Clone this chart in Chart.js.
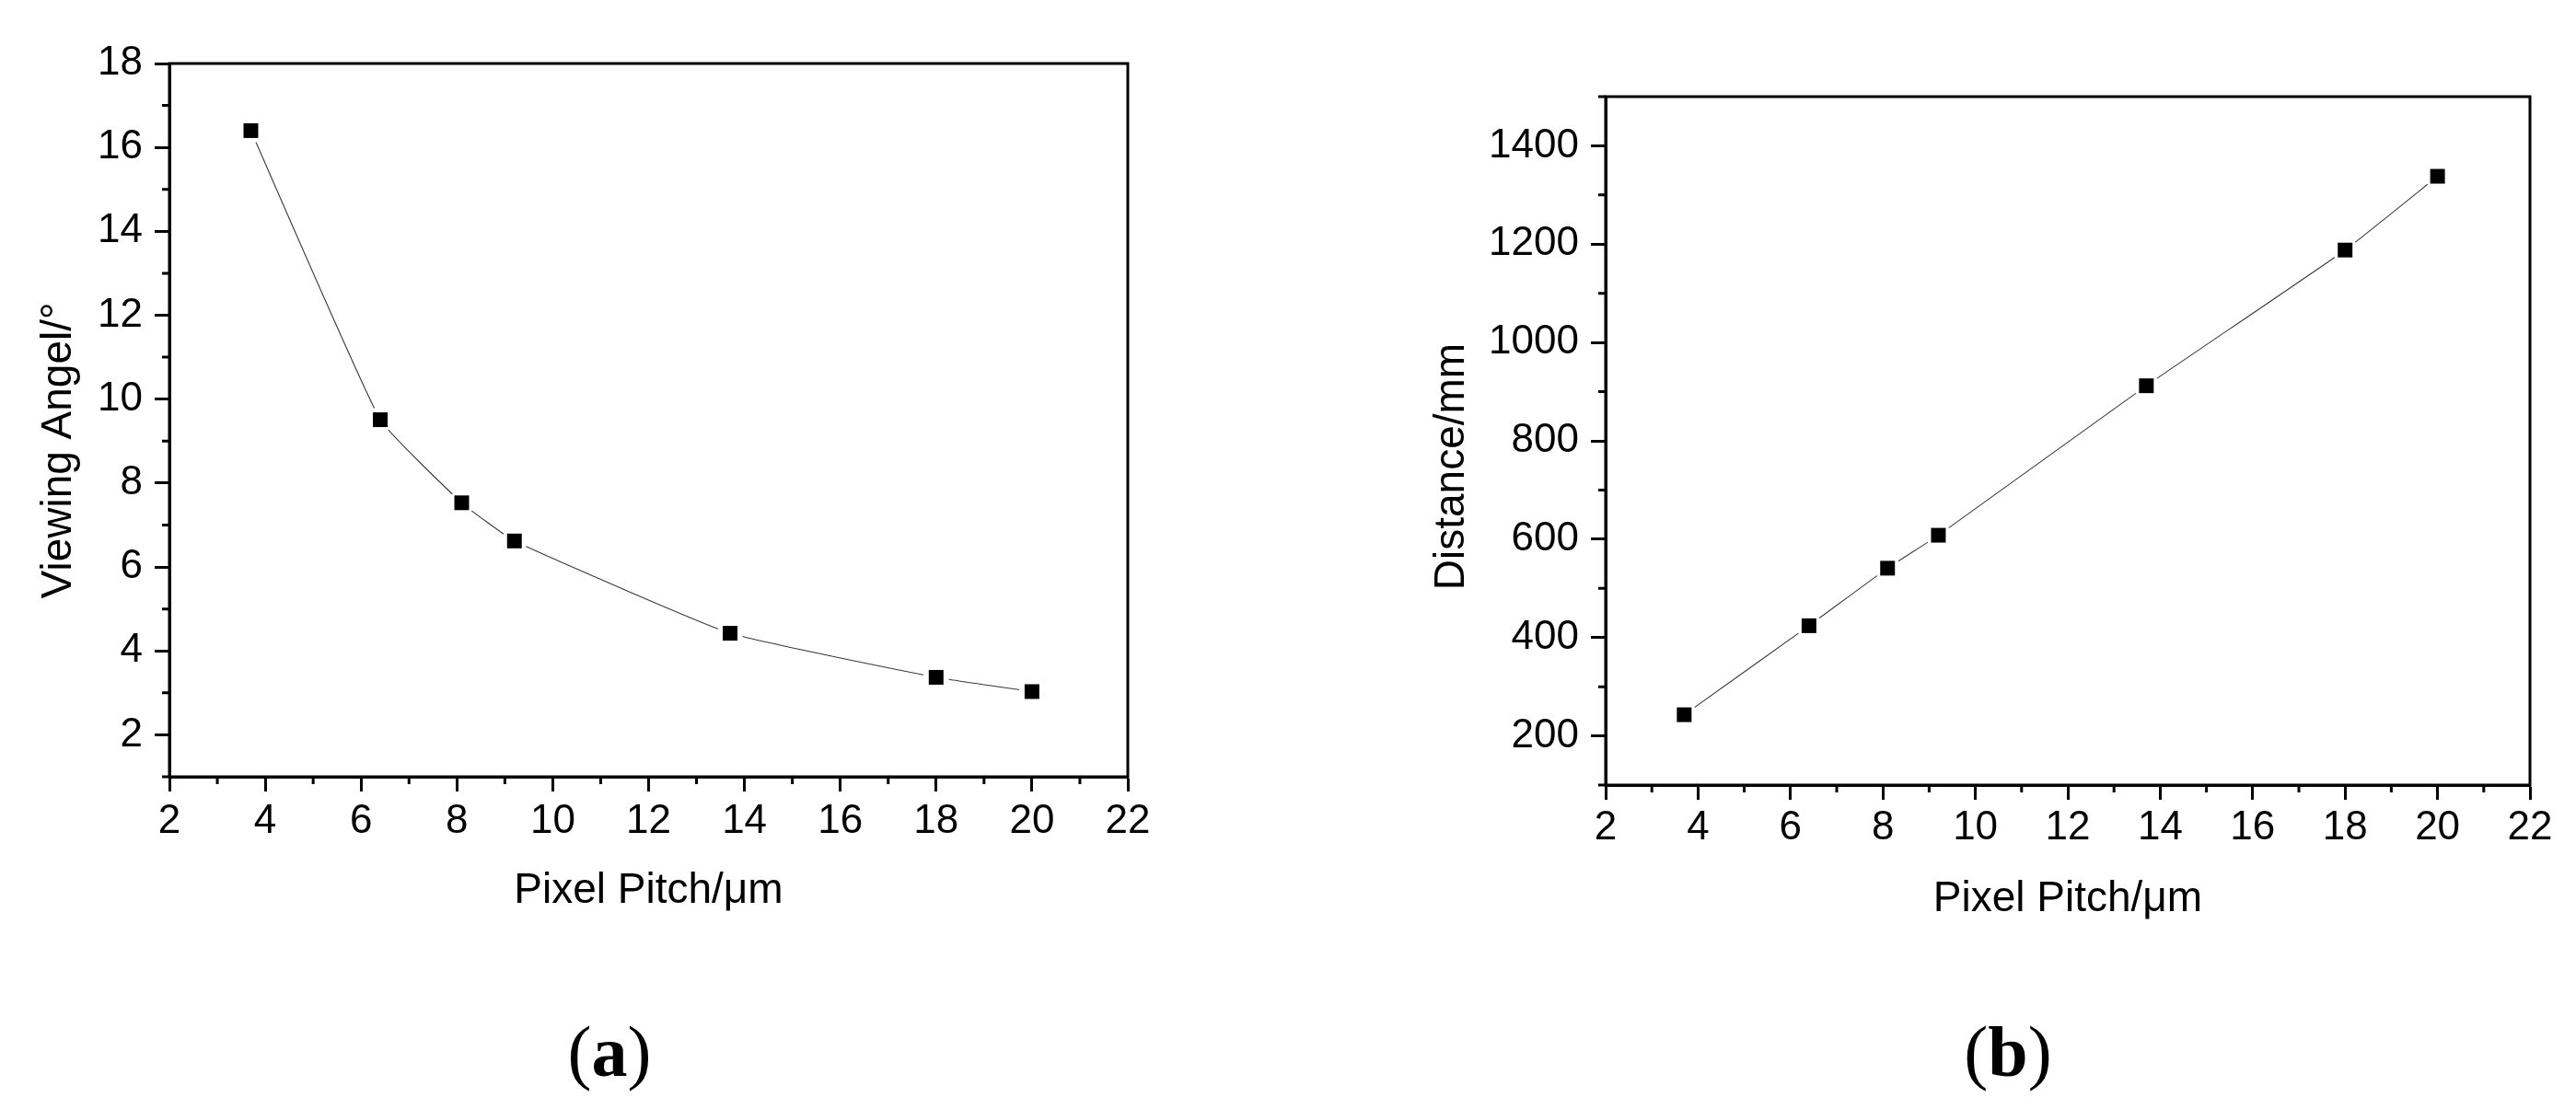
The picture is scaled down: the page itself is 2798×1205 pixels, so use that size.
<!DOCTYPE html>
<html>
<head>
<meta charset="utf-8">
<script src="https://cdn.jsdelivr.net/npm/chart.js@4"></script>
<style>
  body { margin: 0; background: #fff; width: 2798px; height: 1205px; overflow: hidden; position: relative; }
  canvas { position: absolute; top: 0; }
  #chartA { left: 0; }
  #chartB { left: 1400px; }
  .panel { position: absolute; top: 1098px; line-height: 1; font: 78px "Liberation Serif", "Times New Roman", serif; transform: translateX(-50%); white-space: nowrap; }
  .panel b { font-weight: bold; }
</style>
</head>
<body>
<canvas id="chartA" width="1400" height="1205"></canvas>
<canvas id="chartB" width="1398" height="1205"></canvas>
<div class="panel" style="left:662px">(<b>a</b>)</div>
<div class="panel" style="left:2181px">(<b>b</b>)</div>
<script>
// valores
const pitch = [3.7, 6.4, 8.1, 9.2, 13.7, 18, 20];
const viewAngle = [16.4, 9.51, 7.53, 6.62, 4.42, 3.37, 3.03];
const distance = [243, 424, 541, 608, 912, 1188, 1338];

const pitchTicks = [2, 4, 6, 8, 10, 12, 14, 16, 18, 20, 22];
const angleTicks = [2, 4, 6, 8, 10, 12, 14, 16, 18];
const distanceTicks = [200, 400, 600, 800, 1000, 1200, 1400];

Chart.defaults.font.family = '"Liberation Sans", Arial, sans-serif';
Chart.defaults.color = '#000';

// marco, ticks menores y titulos de ejes
const frame = {
  id: 'frame',
  afterDraw(chart, args, opts) {
    const { ctx, chartArea: a, scales: { x, y } } = chart;
    const isMajor = (s, v) => s.ticks.some(t => Math.abs(t.value - v) < 1e-6);
    ctx.save();
    ctx.strokeStyle = '#000';
    ctx.lineWidth = 3;
    ctx.strokeRect(a.left, a.top, a.right - a.left, a.bottom - a.top);
    ctx.beginPath();
    for (let i = 0; x.min + i * opts.xMinor <= x.max + 1e-6; i++) {
      const v = x.min + i * opts.xMinor;
      if (isMajor(x, v)) continue;
      const px = x.getPixelForValue(v);
      ctx.moveTo(px, a.bottom);
      ctx.lineTo(px, a.bottom + 8);
    }
    for (let i = 0; y.min + i * opts.yMinor <= y.max + 1e-6; i++) {
      const v = y.min + i * opts.yMinor;
      if (isMajor(y, v)) continue;
      const py = y.getPixelForValue(v);
      ctx.moveTo(a.left, py);
      ctx.lineTo(a.left - 8, py);
    }
    ctx.stroke();

    ctx.fillStyle = '#000';
    ctx.font = '46px "Liberation Sans", Arial, sans-serif';
    ctx.textAlign = 'center';
    ctx.textBaseline = 'alphabetic';
    ctx.fillText(opts.xTitle, (a.left + a.right) / 2, opts.xTitleY);
    ctx.translate(opts.yTitleX, (a.top + a.bottom) / 2 + opts.yTitleShift);
    ctx.rotate(-Math.PI / 2);
    ctx.fillText(opts.yTitle, 0, 0);
    ctx.restore();
  }
};

function axis(min, max, ticks, size, pad) {
  return {
    type: 'linear',
    min: min,
    max: max,
    afterBuildTicks: s => { s.ticks = ticks.map(v => ({ value: v })); },
    afterFit: s => { if (s.isHorizontal()) s.height = size; else s.width = size; },
    ticks: { callback: v => String(v), padding: pad, font: { size: 44 }, color: '#000', autoSkip: false, maxRotation: 0 },
    grid: { drawOnChartArea: false, drawTicks: true, tickLength: 16, tickWidth: 3, tickColor: '#000' },
    border: { display: true, color: '#000', width: 3 }
  };
}

function makeChart(id, ys, cfg) {
  const pts = pitch.map((p, i) => ({ x: p, y: ys[i] }));
  return new Chart(document.getElementById(id), {
    type: 'line',
    data: {
      datasets: [
        { data: pts, pointRadius: 11.3, pointStyle: 'rect', backgroundColor: '#000', borderWidth: 0, showLine: false, order: 1 },
        { data: pts, pointRadius: 14, pointStyle: 'circle', backgroundColor: '#fff', borderWidth: 0, showLine: false, order: 2 },
        { data: pts, pointRadius: 0, borderColor: '#3a3a3a', borderWidth: 1.1, tension: 0.12, fill: false, order: 3 }
      ]
    },
    options: {
      responsive: false,
      animation: false,
      events: [],
      layout: { padding: { top: cfg.top, right: cfg.right, left: 0, bottom: 0 } },
      scales: {
        x: axis(2, 22, pitchTicks, cfg.xHeight, cfg.xPad),
        y: axis(cfg.yMin, cfg.yMax, cfg.yTicks, cfg.yWidth, 13)
      },
      plugins: {
        legend: { display: false },
        tooltip: { enabled: false },
        frame: cfg.frame
      }
    },
    plugins: [frame]
  });
}

makeChart('chartA', viewAngle, {
  top: 69, right: 175, xHeight: 361, yWidth: 184, xPad: 6,
  yMin: 1, yMax: 18, yTicks: angleTicks,
  frame: { xMinor: 1, yMinor: 1, xTitle: 'Pixel Pitch/μm', xTitleY: 981, yTitle: 'Viewing Angel/°', yTitleX: 77, yTitleShift: 33 }
});

makeChart('chartB', distance, {
  top: 105, right: 50, xHeight: 352, yWidth: 344, xPad: 4,
  yMin: 100, yMax: 1500, yTicks: distanceTicks,
  frame: { xMinor: 1, yMinor: 100, xTitle: 'Pixel Pitch/μm', xTitleY: 990, yTitle: 'Distance/mm', yTitleX: 190, yTitleShift: 28 }
});
</script>
</body>
</html>
